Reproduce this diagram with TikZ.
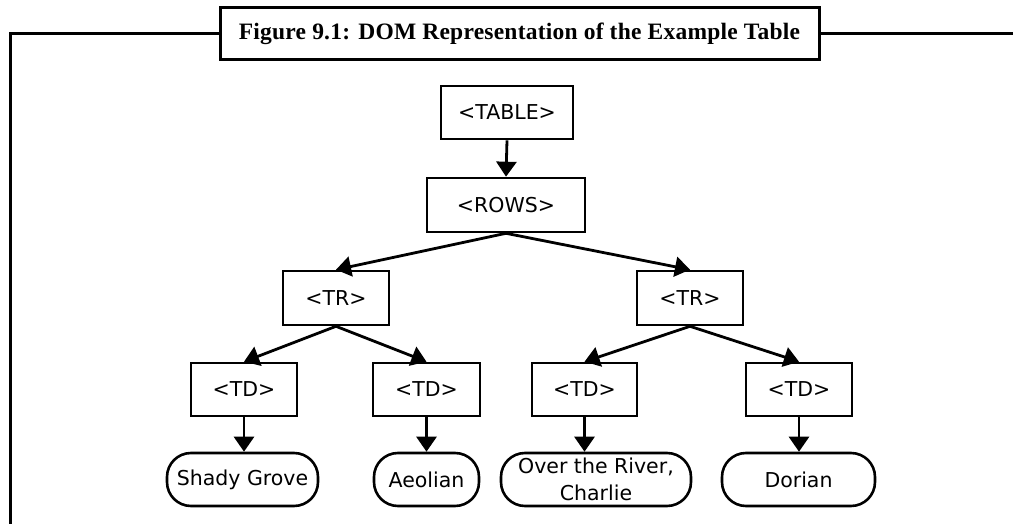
\documentclass[tikz,border=0pt]{standalone}
\usepackage{fontspec}
\setmainfont{Liberation Serif}
\newfontfamily\tagFont{DejaVu Sans}
\newfontfamily\captionFont[LetterSpace=1]{Liberation Serif}
\usetikzlibrary{arrows.meta}
\tikzstyle{diagram} = [x = 1pt, y = -1pt]
\tikzstyle{frameLine} = [color=black, line width=3pt]
\tikzstyle{captionBox} = [draw, line width=3pt, fill=white, inner sep=0pt, font=\captionFont\bfseries\fontsize{23.5}{27}\selectfont]
\tikzstyle{tagBox} = [draw, line width=2.6pt, inner sep=0pt, font=\tagFont\fontsize{20.5}{27}\selectfont]
\tikzstyle{leafBox} = [tagBox, rounded corners=24pt, align=center]
\tikzstyle{treeArrow} = [line width=2.8pt, -{Triangle[width=20pt,length=15pt]}]
\newcommand{\tagNode}[6]{\node [tagBox, minimum width=#4pt, minimum height=#5pt] (#1) at (#2,#3) {#6};}
\newcommand{\leafNode}[5]{\node [leafBox, minimum width=#4pt, minimum height=53pt] (#1) at (#2,#3) {#5};}
\newcommand{\branch}[2]{\draw [treeArrow] (#1.south) -- (#2.north);}
\newcommand{\leafBranch}[2]{\draw [treeArrow] (#1.south) -- (#1.south |- #2.north);}

\begin{document}
\begin{tikzpicture}[diagram]
  \useasboundingbox (0,0) rectangle (1013,524);
  % frame with caption
  \node [captionBox, minimum width=599pt, minimum height=52pt] (caption) at (519.5,34) {Figure 9.1: DOM Representation of the Example Table};
  \draw [frameLine] (caption.west) -- (10,34) -- (10,530);
  \draw [frameLine] (caption.east) -- (1020,34);

  % tree
  \tagNode{table}{507}{112.5}{132}{53}{<TABLE>}
  \tagNode{rows}{506}{205}{158}{54}{<ROWS>}
  \tagNode{trLeft}{336}{298}{106}{54}{<TR>}
  \tagNode{trRight}{690}{298}{106}{54}{<TR>}
  \tagNode{tdOne}{244}{389.5}{106}{53}{<TD>}
  \tagNode{tdTwo}{426.5}{389.5}{107}{53}{<TD>}
  \tagNode{tdThree}{584.5}{389.5}{105}{53}{<TD>}
  \tagNode{tdFour}{799}{389.5}{106}{53}{<TD>}
  \leafNode{shady}{242.5}{479.5}{151}{Shady Grove}
  \leafNode{aeolian}{426.5}{479.5}{105}{Aeolian}
  \leafNode{river}{596}{479.5}{190}{Over the River,\\Charlie}
  \leafNode{dorian}{798.5}{479.5}{153}{Dorian}

  \branch{table}{rows}
  \branch{rows}{trLeft}
  \branch{rows}{trRight}
  \branch{trLeft}{tdOne}
  \branch{trLeft}{tdTwo}
  \branch{trRight}{tdThree}
  \branch{trRight}{tdFour}
  \leafBranch{tdOne}{shady}
  \leafBranch{tdTwo}{aeolian}
  \leafBranch{tdThree}{river}
  \leafBranch{tdFour}{dorian}
\end{tikzpicture}
\end{document}
